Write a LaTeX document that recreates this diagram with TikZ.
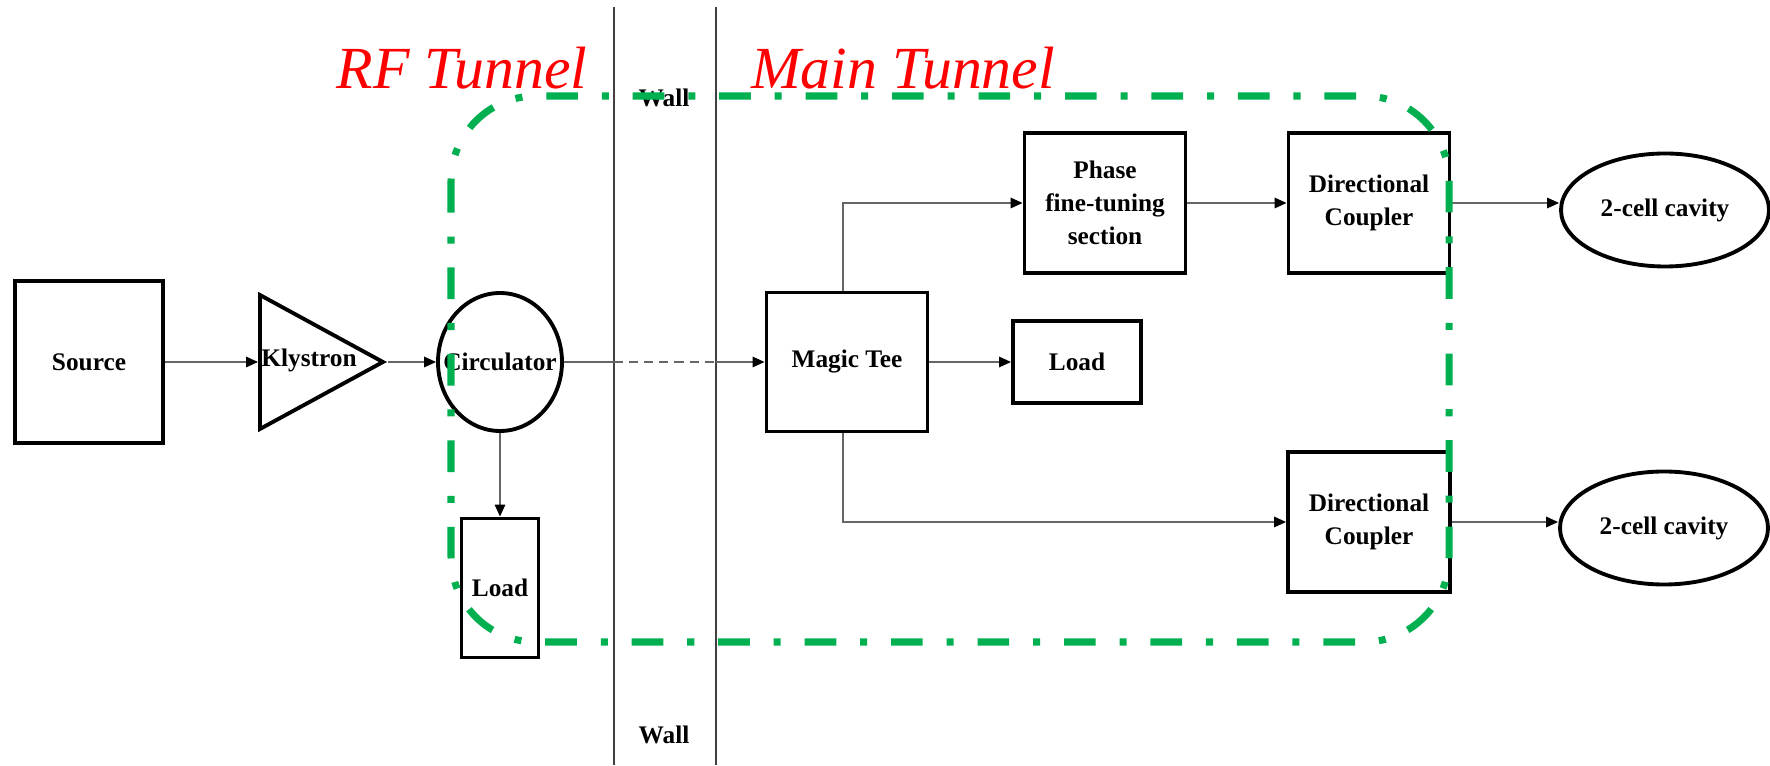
\documentclass[tikz,border=0pt]{standalone}
\usepackage{fontspec}
\setmainfont{Liberation Serif}
\usetikzlibrary{arrows.meta,positioning,calc,shapes.geometric}
\definecolor{zoneG}{RGB}{0,176,80}
\definecolor{tunRed}{RGB}{255,0,0}

\begin{document}
\begin{tikzpicture}[
  blk/.style={draw=black, line width=1.1pt, fill=white, align=center, inner sep=1pt, font=\fontsize{7.2}{9.3}\selectfont\bfseries},
  cav/.style={ellipse, draw=black, line width=1.1pt, fill=white, inner sep=0pt, minimum width=2.08cm, minimum height=1.13cm, font=\fontsize{7.2}{9.3}\selectfont\bfseries},
  amp/.style={isosceles triangle, isosceles triangle stretches, draw=black, line width=1.1pt, inner sep=0pt, minimum width=1.34cm, minimum height=1.23cm},
  lbl/.style={inner sep=0pt, font=\fontsize{7.2}{9.3}\selectfont\bfseries},
  wire/.style={draw=black!60, line width=0.45pt},
  arr/.style={wire, -{Triangle[length=1.2mm, width=1.05mm, color=black]}},
  wallln/.style={black!75, line width=0.4pt},
  tunnel/.style={inner sep=0pt, text=tunRed, font=\fontsize{17}{20}\selectfont\itshape},
  zone/.style={draw=zoneG, line width=2pt, rounded corners=0.85cm, dash pattern=on 9pt off 6.8pt on 2pt off 6.8pt}
]
  \useasboundingbox (0,0) rectangle (17.7,7.65);

  % walls between the two tunnels
  \draw[wallln] (6.14,7.58) -- (6.14,0);
  \draw[wallln] (7.16,7.58) -- (7.16,0);
  \node[lbl] (walltop) at (6.64,6.67) {Wall};
  \node[lbl] (wallbot) at (6.64,0.30) {Wall};
  \coordinate (wa) at (6.14,4.03);
  \coordinate (wb) at (7.16,4.03);

  % tunnel names
  \node[tunnel] (rft) at (4.62,6.97) {RF Tunnel};
  \node[tunnel] (mnt) at (9.03,6.97) {Main Tunnel};

  % RF tunnel side
  \node[blk, minimum width=1.48cm, minimum height=1.62cm] (src) at (0.89,4.03) {Source};
  \node[amp, anchor=west] (kly) at (2.58,4.03) {};
  \node[lbl] (klytxt) at (3.09,4.05) {Klystron};
  \node[cav, minimum width=1.24cm, minimum height=1.38cm, label={[lbl]center:Circulator}] (circ) at (5.00,4.03) {};
  \node[blk, minimum width=0.77cm, minimum height=1.39cm] (ldA) at (5.00,1.77) {Load};

  % main tunnel side
  \node[blk, minimum width=1.61cm, minimum height=1.39cm] (mt) at (8.47,4.03) {Magic Tee};
  \node[blk, minimum width=1.28cm, minimum height=0.82cm] (ldB) at (10.77,4.03) {Load};
  \node[blk, minimum width=1.61cm, minimum height=1.40cm] (ph) at (11.05,5.62) {Phase\\fine-tuning\\section};
  \node[blk, minimum width=1.61cm, minimum height=1.40cm] (dcA) at (13.69,5.62) {Directional\\Coupler};
  \node[blk, minimum width=1.62cm, minimum height=1.40cm] (dcB) at (13.69,2.43) {Directional\\Coupler};
  \node[cav] (cvA) at (16.65,5.55) {2-cell cavity};
  \node[cav] (cvB) at (16.64,2.37) {2-cell cavity};

  \draw[arr] (src) -- (kly.west);
  \draw[arr] (kly.apex) -- (circ);
  \draw[arr] (circ) -- (ldA);
  \draw[wire] (circ) -- (wa);
  \draw[wire, dash pattern=on 2.6pt off 1.7pt] (wa) -- (wb);
  \draw[arr] (wb) -- (mt);
  \draw[arr] (mt) -- (ldB);
  \draw[arr] ([xshift=-0.04cm]mt.north) |- (ph);
  \draw[arr] ([xshift=-0.04cm]mt.south) |- (dcB);
  \draw[arr] (ph) -- (dcA);
  \draw[arr] (dcA.east) -- (dcA.east -| cvA.west);
  \draw[arr] (dcB.east) -- (dcB.east -| cvB.west);

  % zone boundary
  \draw[zone] (4.51,6.69) rectangle (14.49,1.23);
\end{tikzpicture}
\end{document}
